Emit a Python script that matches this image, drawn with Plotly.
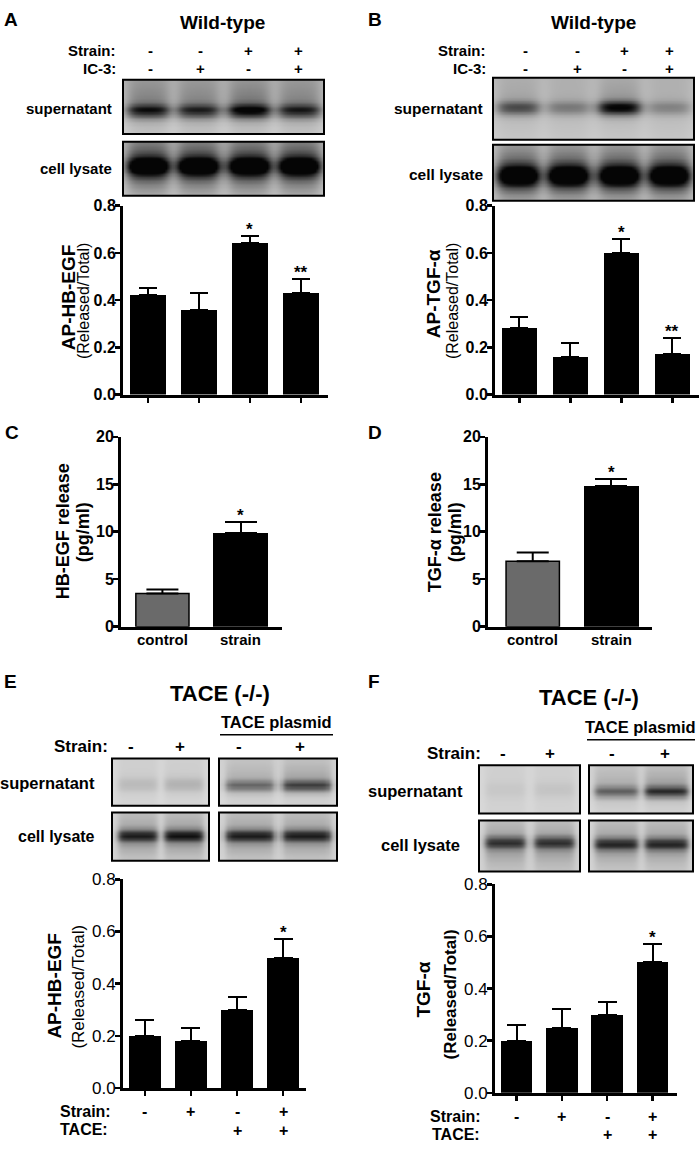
import numpy as np
import plotly.graph_objects as go

FONT = "Liberation Sans, Arial, Helvetica, sans-serif"
W, H = 700, 1151

# ---------------- data ----------------
ab_lanes = [0, 1, 2, 3]
a_values = [0.42, 0.36, 0.64, 0.43]
a_err = [0.03, 0.07, 0.03, 0.06]
a_stars = ["", "", "*", "**"]

b_values = [0.28, 0.16, 0.60, 0.17]
b_err = [0.05, 0.06, 0.06, 0.07]
b_stars = ["", "", "*", "**"]

cd_categories = ["control", "strain"]
cd_pos = [0, 1]
c_values = [3.5, 9.9]
c_err = [0.4, 1.15]
c_stars = ["", "*"]
d_values = [6.9, 14.85]
d_err = [0.9, 0.75]
d_stars = ["", "*"]

e_values = [0.20, 0.18, 0.30, 0.50]
e_err = [0.06, 0.05, 0.05, 0.07]
e_stars = ["", "", "", "*"]
f_values = [0.20, 0.25, 0.30, 0.50]
f_err = [0.06, 0.07, 0.05, 0.07]
f_stars = ["", "", "", "*"]

ratio_ticks = [0, 0.2, 0.4, 0.6, 0.8]
ratio_ticktext = ["0.0", "0.2", "0.4", "0.6", "0.8"]
pg_ticks = [0, 5, 10, 15, 20]
pg_ticktext = ["0", "5", "10", "15", "20"]

ab_strain = ["-", "-", "+", "+"]
ab_ic3 = ["-", "+", "-", "+"]
ef_strain = ["-", "+", "-", "+"]
ef_tace = ["", "", "+", "+"]

# blot band intensities (relative darkness per lane)
a_sup_band = [0.80, 0.72, 0.95, 0.75]
a_lys_band = [1.0, 1.0, 1.0, 1.0]
b_sup_band = [0.60, 0.35, 1.0, 0.30]
b_lys_band = [1.0, 1.0, 1.0, 1.0]
e_sup_left = [0.15, 0.20]
e_sup_right = [0.50, 0.70]
e_lys_left = [0.75, 0.80]
e_lys_right = [0.75, 0.75]
f_sup_left = [0.06, 0.08]
f_sup_right = [0.50, 0.75]
f_lys_left = [0.65, 0.65]
f_lys_right = [0.70, 0.70]

# --------------- helpers ---------------
def dx_(x0, x1):
    return [x0 / W, x1 / W]

def dy_(ytop, ybot):
    return [1 - ybot / H, 1 - ytop / H]

fig = go.Figure()
annotations = []
shapes = []

def txt(x, y, s, size=15, bold=True, xanchor="center", yanchor="middle",
        xref="x7", yref="y7", angle=0, yshift=0):
    annotations.append(dict(
        x=x, y=y, xref=xref, yref=yref, text=("<b>%s</b>" % s) if bold else s,
        showarrow=False, xanchor=xanchor, yanchor=yanchor, textangle=angle,
        font=dict(family=FONT, size=size, color="black"), yshift=yshift))

def blot(x0, y0, w, h, intens, centers, hw, yc, sw=0.09, a_core=0.75,
         a_up=0.2, su=0.45, a_dn=0.15, sd=0.2, bg_top=0.15, bg_bot=0.08,
         lane_base=0.08, edge=0.018, nx=100, ny=40):
    xf = (np.arange(nx) + 0.5) / nx
    yf = (np.arange(ny) + 0.5) / ny
    bg = bg_top + (bg_bot - bg_top) * yf
    smear = np.where(yf < yc, a_up * np.exp(-((yf - yc) / su) ** 2),
                     a_dn * np.exp(-((yf - yc) / sd) ** 2))
    prof = a_core * np.exp(-((yf - yc) / sw) ** 2) + smear
    z = bg[:, None] + np.zeros((ny, nx))
    for I, c in zip(intens, centers):
        L = 1.0 / (1.0 + np.exp((np.abs(xf - c) - hw) / edge))
        z = z + L[None, :] * (lane_base + I * prof[:, None])
    z = np.clip(z, 0, 1)
    fig.add_trace(go.Heatmap(
        z=z, x0=x0 + w / nx / 2, dx=w / nx, y0=y0 + h / ny / 2, dy=h / ny,
        colorscale=[[0, "#e4e4e4"], [1, "#050505"]], zmin=0, zmax=1,
        showscale=False, zsmooth="best", xaxis="x7", yaxis="y7",
        hoverinfo="skip"))
    shapes.append(dict(type="rect", xref="x7", yref="y7", x0=x0, x1=x0 + w,
                       y0=y0, y1=y0 + h, line=dict(color="black", width=2),
                       fillcolor="rgba(0,0,0,0)", layer="above"))

def bars(ax, xs, vals, errs, color="black", cap=9, outline=0):
    fig.add_trace(go.Bar(
        x=xs, y=vals, width=0.7 if color == "black" else 0.68,
        marker=dict(color=color, line=dict(color="black", width=outline)),
        error_y=dict(type="data", symmetric=False, array=errs,
                     arrayminus=[0] * len(errs), thickness=2, width=cap,
                     color="black"),
        xaxis="x" + ax, yaxis="y" + ax, hoverinfo="skip"))

def stars(ax, xs, vals, errs, marks, size=17):
    for x, v, e, m in zip(xs, vals, errs, marks):
        if m:
            txt(x, v + e, m, size=size, xref="x" + ax, yref="y" + ax,
                yanchor="bottom", yshift=-5)

axis_common = dict(showline=True, linecolor="black", linewidth=3,
                   showgrid=False, zeroline=False, fixedrange=True,
                   mirror=False)

def set_axes(ax, xdom, ydom, xrange, yrange, ytickvals, yticktext,
             xticks=True, xtickvals=None, tickbold=True, standoff=-4,
             ticksize=16):
    lay = {}
    tt = ["<b>%s</b>" % t for t in yticktext] if tickbold else yticktext
    lay["xaxis" + ax] = dict(axis_common, domain=xdom, range=xrange,
                             anchor="y" + ax,
                             ticks="outside" if xticks else "",
                             ticklen=5, tickwidth=2.5, tickcolor="black",
                             tickvals=xtickvals, ticktext=[""] * len(xtickvals))
    lay["yaxis" + ax] = dict(axis_common, domain=ydom, range=yrange,
                             anchor="x" + ax, ticks="outside", ticklen=5,
                             tickwidth=2.5, tickcolor="black",
                             tickvals=ytickvals, ticktext=tt,
                             ticklabelstandoff=standoff,
                             tickfont=dict(family=FONT, size=ticksize,
                                           color="black"))
    return lay

layout_axes = {}

# ================= Panel A =================
txt(2, 11, "A", size=19, xanchor="left")
txt(222, 14, "Wild-type", size=19)
txt(118, 42, "Strain:", xanchor="right")
txt(118, 60, "IC-3:", xanchor="right")
for xp, s1, s2 in zip([150, 200, 248, 298], ab_strain, ab_ic3):
    txt(xp, 42, s1)
    txt(xp, 60, s2)
txt(114, 101, "supernatant", xanchor="right")
txt(114, 162, "cell lysate", xanchor="right")
c4 = [0.125, 0.375, 0.625, 0.875]
blot(123, 72, 201, 55, a_sup_band, c4, 0.1, 0.57, sw=0.12, a_core=0.7,
     a_up=0.3, su=0.5, a_dn=0.2, sd=0.2, bg_top=0.2, bg_bot=0.08)
blot(123, 135, 201, 55, a_lys_band, c4, 0.1, 0.45, sw=0.17, a_core=0.8,
     a_up=0.45, su=0.5, a_dn=0.45, sd=0.4, bg_top=0.18, bg_bot=0.12)
layout_axes.update(set_axes("", dx_(123, 328), dy_(200, 392), [-0.49, 3.53],
                            [0, 0.8], ratio_ticks, ratio_ticktext,
                            xtickvals=ab_lanes))
bars("", ab_lanes, a_values, a_err)
stars("", ab_lanes, a_values, a_err, a_stars)
txt(68, 293, "AP-HB-EGF", size=19, angle=-90)
txt(83, 297, "(Released/Total)", size=16, bold=False, angle=-90)

# ================= Panel B =================
txt(366, 11, "B", size=19, xanchor="left")
txt(593, 14, "Wild-type", size=19)
txt(488, 42, "Strain:", xanchor="right")
txt(488, 60, "IC-3:", xanchor="right")
for xp, s1, s2 in zip([525, 577, 624, 669], ab_strain, ab_ic3):
    txt(xp, 42, s1)
    txt(xp, 60, s2)
txt(485, 101, "supernatant", xanchor="right", size=15.5)
txt(485, 168, "cell lysate", xanchor="right", size=15.5)
blot(493, 70, 201, 63, b_sup_band, c4, 0.1, 0.48, sw=0.11, a_core=0.75,
     a_up=0.15, a_dn=0.1, bg_top=0.18, bg_bot=0.1, lane_base=0.04)
blot(493, 138, 201, 57, b_lys_band, c4, 0.1, 0.55, sw=0.19, a_core=0.8,
     a_up=0.4, su=0.5, a_dn=0.4, sd=0.35, bg_top=0.15, bg_bot=0.15)
layout_axes.update(set_axes("2", dx_(495, 699), dy_(200, 392), [-0.48, 3.52],
                            [0, 0.8], ratio_ticks, ratio_ticktext,
                            xtickvals=ab_lanes))
bars("2", ab_lanes, b_values, b_err)
stars("2", ab_lanes, b_values, b_err, b_stars)
txt(433, 290, "AP-TGF-α", size=19, angle=-90)
txt(452, 297, "(Released/Total)", size=16, bold=False, angle=-90)

# ================= Panel C =================
txt(3, 431, "C", size=19, xanchor="left")
layout_axes.update(set_axes("3", dx_(121, 282), dy_(435, 628), [-0.53, 1.53],
                            [0, 20], pg_ticks, pg_ticktext, xticks=False,
                            xtickvals=cd_pos))
bars("3", [0], c_values[:1], c_err[:1], color="#6a6a6a", cap=16, outline=1.5)
bars("3", [1], c_values[1:], c_err[1:], cap=16)
stars("3", cd_pos, c_values, c_err, c_stars)
for xp, lab in zip(cd_pos, cd_categories):
    txt(xp, 641, lab, xref="x3")
txt(63, 531, "HB-EGF release", size=18, angle=-90)
txt(83, 532, "(pg/ml)", size=18, angle=-90)

# ================= Panel D =================
txt(366, 431, "D", size=19, xanchor="left")
layout_axes.update(set_axes("4", dx_(488, 652), dy_(435, 628), [-0.57, 1.52],
                            [0, 20], pg_ticks, pg_ticktext, xticks=False,
                            xtickvals=cd_pos))
bars("4", [0], d_values[:1], d_err[:1], color="#6a6a6a", cap=16, outline=1.5)
bars("4", [1], d_values[1:], d_err[1:], cap=16)
stars("4", cd_pos, d_values, d_err, d_stars)
for xp, lab in zip(cd_pos, cd_categories):
    txt(xp, 641, lab, xref="x4")
txt(435, 532, "TGF-α release", size=18, angle=-90)
txt(455, 532, "(pg/ml)", size=18, angle=-90)

# ================= Panel E =================
txt(2, 684, "E", size=19, xanchor="left")
txt(220, 696, "TACE (-/-)", size=22)
txt(276, 725, "TACE plasmid", size=16.5)
shapes.append(dict(type="line", xref="x7", yref="y7", x0=220, x1=333,
                   y0=738, y1=738, line=dict(color="black", width=1.5)))
txt(110, 750, "Strain:", size=17, xanchor="right")
for xp, s1 in zip([131, 180, 239, 300], ef_strain):
    txt(xp, 750, s1, size=17)
txt(97, 787, "supernatant", size=16.5, xanchor="right")
txt(97, 841, "cell lysate", size=16, xanchor="right")
c2 = [0.26, 0.74]
blot(112, 762, 97, 48, e_sup_left, c2, 0.2, 0.55, sw=0.15, a_core=0.6,
     a_up=0.12, a_dn=0.1, bg_top=0.06, bg_bot=0.04, lane_base=0.03)
blot(219, 762, 118, 48, e_sup_right, c2, 0.205, 0.58, sw=0.12, a_core=0.72,
     a_up=0.28, a_dn=0.12, bg_top=0.08, bg_bot=0.04, lane_base=0.04)
blot(112, 817, 97, 49, e_lys_left, c2, 0.2, 0.47, sw=0.12, a_core=0.78,
     a_up=0.22, a_dn=0.32, sd=0.35, bg_top=0.07, bg_bot=0.07, lane_base=0.05)
blot(219, 817, 118, 49, e_lys_right, c2, 0.205, 0.47, sw=0.12, a_core=0.78,
     a_up=0.22, a_dn=0.32, sd=0.35, bg_top=0.07, bg_bot=0.07, lane_base=0.05)
layout_axes.update(set_axes("5", dx_(123, 306), dy_(885, 1097), [-0.478, 3.5],
                            [0, 0.8], ratio_ticks, ratio_ticktext,
                            xtickvals=ab_lanes, tickbold=False, standoff=-4,
                            ticksize=17))
bars("5", ab_lanes, e_values, e_err, cap=9.5)
stars("5", ab_lanes, e_values, e_err, e_stars)
txt(113, 1121, "Strain:", size=16, xanchor="right")
txt(110, 1139, "TACE:", size=16, xanchor="right")
for xp, s1, s2 in zip(ab_lanes, ef_strain, ef_tace):
    txt(xp, 1121, s1, size=16, xref="x5")
    if s2:
        txt(xp, 1140, s2, size=16, xref="x5")
txt(55, 993, "AP-HB-EGF", size=19, angle=-90)
txt(79, 994, "(Released/Total)", size=17, bold=False, angle=-90)

# ================= Panel F =================
txt(366, 684, "F", size=19, xanchor="left")
txt(589, 700, "TACE (-/-)", size=22)
txt(640, 730, "TACE plasmid", size=16.5)
shapes.append(dict(type="line", xref="x7", yref="y7", x0=587, x1=695,
                   y0=743, y1=743, line=dict(color="black", width=1.5)))
txt(483, 757, "Strain:", size=17, xanchor="right")
for xp, s1 in zip([503, 550, 612, 665], ef_strain):
    txt(xp, 757, s1, size=17)
txt(465, 795, "supernatant", size=16.5, xanchor="right")
txt(462, 850, "cell lysate", size=16.5, xanchor="right")
blot(479, 769, 101, 49, f_sup_left, c2, 0.2, 0.5, sw=0.16, a_core=0.6,
     a_up=0.12, a_dn=0.1, bg_top=0.06, bg_bot=0.05, lane_base=0.03)
blot(589, 769, 104, 49, f_sup_right, c2, 0.205, 0.55, sw=0.12, a_core=0.72,
     a_up=0.28, a_dn=0.12, bg_top=0.08, bg_bot=0.05, lane_base=0.04)
blot(479, 825, 101, 52, f_lys_left, c2, 0.2, 0.42, sw=0.12, a_core=0.78,
     a_up=0.22, a_dn=0.35, sd=0.38, bg_top=0.07, bg_bot=0.08, lane_base=0.05)
blot(589, 825, 104, 52, f_lys_right, c2, 0.205, 0.45, sw=0.12, a_core=0.78,
     a_up=0.22, a_dn=0.32, sd=0.35, bg_top=0.07, bg_bot=0.07, lane_base=0.05)
layout_axes.update(set_axes("6", dx_(495, 677), dy_(890, 1102), [-0.475, 3.54],
                            [0, 0.8], ratio_ticks, ratio_ticktext,
                            xtickvals=ab_lanes, tickbold=False, standoff=-4,
                            ticksize=17))
bars("6", ab_lanes, f_values, f_err, cap=9.5)
stars("6", ab_lanes, f_values, f_err, f_stars)
txt(483, 1126, "Strain:", size=16, xanchor="right")
txt(482, 1144, "TACE:", size=16, xanchor="right")
for xp, s1, s2 in zip(ab_lanes, ef_strain, ef_tace):
    txt(xp, 1126, s1, size=16, xref="x6")
    if s2:
        txt(xp, 1144, s2, size=16, xref="x6")
txt(424, 997, "TGF-α", size=19, angle=-90)
txt(450, 1002, "(Released/Total)", size=17, angle=-90)

# ---------------- overlay pixel axis ----------------
layout_axes["xaxis7"] = dict(domain=[0, 1], range=[0, W], visible=False,
                             fixedrange=True, anchor="y7")
layout_axes["yaxis7"] = dict(domain=[0, 1], range=[H, 0], visible=False,
                             fixedrange=True, anchor="x7")

fig.update_layout(
    width=W, height=H, margin=dict(l=0, r=0, t=0, b=0),
    paper_bgcolor="white", plot_bgcolor="rgba(0,0,0,0)",
    showlegend=False, bargap=0, annotations=annotations, shapes=shapes,
    font=dict(family=FONT, color="black"),
    **layout_axes)

fig.write_html(
    "out.html",
    config={"displayModeBar": False, "staticPlot": True},
    post_script="document.body.style.margin='0';"
                "document.body.style.padding='0';"
                "document.body.style.overflow='hidden';")
